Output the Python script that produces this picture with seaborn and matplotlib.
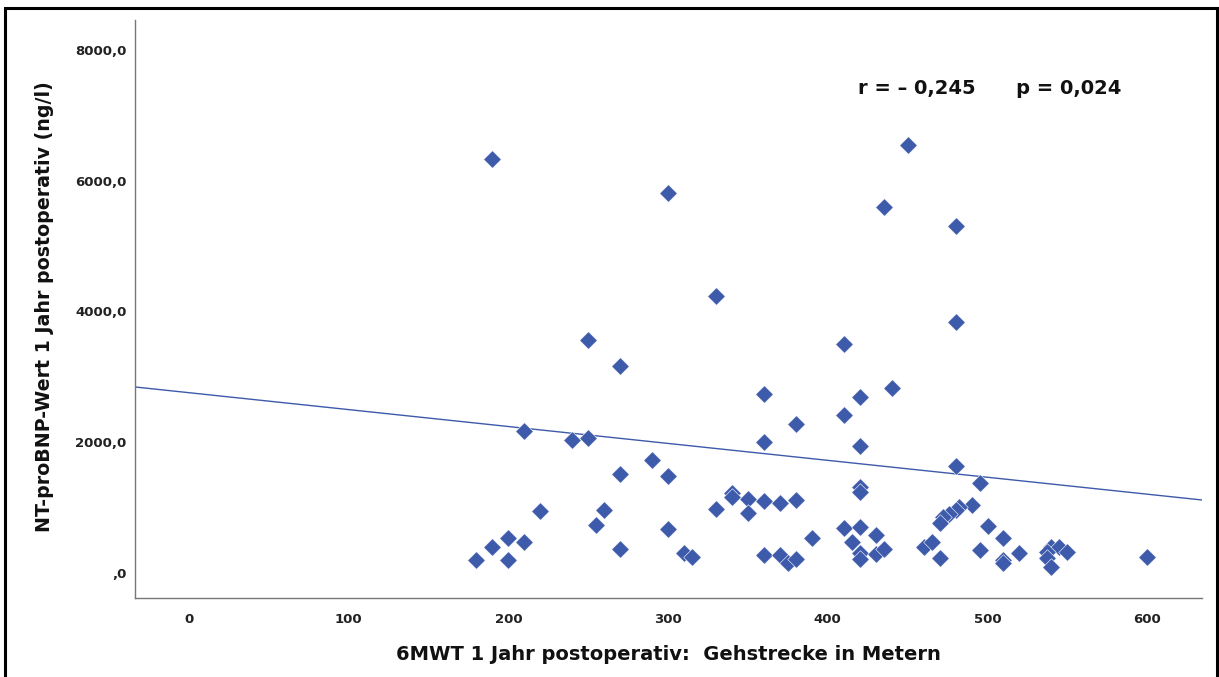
import matplotlib
matplotlib.use("Agg")
import matplotlib.pyplot as plt
import seaborn as sns
import pandas as pd
from matplotlib.patches import Rectangle

# Data (6MWT distance in m, NT-proBNP in ng/l)
walk_m = [190, 300, 450, 435, 480, 330, 480, 250, 270, 410, 440, 360,
          420, 410, 380, 210, 240, 250, 360, 420, 290, 480, 270, 300,
          220, 260, 255, 300, 270, 200, 210, 200, 190, 180, 310, 315,
          330, 340, 340, 350, 350, 360, 360, 370, 370, 375, 380, 380,
          390, 420, 420, 410, 420, 415, 430, 420, 420, 430, 435, 495,
          490, 482, 480, 476, 472, 470, 460, 465, 470, 500, 510, 495,
          510, 510, 520, 540, 545, 550, 537, 537, 540, 600]
ntprobnp = [6330, 5812, 6546, 5598, 5307, 4237, 3839, 3564, 3166, 3503, 2830, 2738,
            2692, 2417, 2279, 2165, 2030, 2068, 2010, 1942, 1736, 1640, 1514, 1490,
            950, 960, 730, 673, 372, 530, 475, 199, 393, 199, 310, 250,
            979, 1228, 1167, 1132, 922, 1097, 270, 1071, 275, 158, 210, 1117,
            540, 1310, 1240, 683, 700, 479, 578, 300, 210, 291, 365, 1372,
            1035, 1010, 970, 900, 850, 760, 402, 479, 225, 715, 540, 345,
            199, 160, 305, 402, 402, 326, 325, 225, 92, 249]

# fit line as drawn in the reference (intercept at x=0, slope per metre)
fit_intercept = 2758
fit_slope = -2.587

x_ticks = [0, 100, 200, 300, 400, 500, 600]
x_tick_labels = ["0", "100", "200", "300", "400", "500", "600"]
y_ticks = [0, 2000, 4000, 6000, 8000]
y_tick_labels = [",0", "2000,0", "4000,0", "6000,0", "8000,0"]

x_label = "6MWT 1 Jahr postoperativ:  Gehstrecke in Metern"
y_label = "NT-proBNP-Wert 1 Jahr postoperativ (ng/l)"
stats_text = "r = \u2013 0,245      p = 0,024"

df = pd.DataFrame({"walk": walk_m, "bnp": ntprobnp})

sns.set_style("white")
plt.rcParams["font.family"] = ["DejaVu Sans"]

W, H = 1219, 677
fig = plt.figure(figsize=(W / 100, H / 100), dpi=100)
ax = fig.add_axes([135 / W, 1 - 598 / H, (1202 - 135) / W, (598 - 20) / H])

blue = "#3d5aab"
sns.scatterplot(data=df, x="walk", y="bnp", ax=ax, marker="D", s=80,
                color=blue, edgecolor="white", linewidth=0.4, zorder=3)
ax.axline((0, fit_intercept), slope=fit_slope, color=blue, linewidth=1.0, zorder=2)

ax.set_xlim(-33.8, 634.3)
ax.set_ylim(-382, 8458)

ax.set_xticks(x_ticks)
ax.set_xticklabels(x_tick_labels, fontsize=9.5, fontweight="bold", color="#222222")
ax.set_yticks(y_ticks)
ax.set_yticklabels(y_tick_labels, fontsize=9.5, fontweight="bold", color="#222222")
ax.tick_params(axis="x", length=0, pad=11)
ax.tick_params(axis="y", length=0, pad=6)

ax.set_xlabel("")
ax.set_ylabel("")
fig.text(668 / W, 1 - 654 / H, x_label, ha="center", va="center",
         fontsize=14, fontweight="bold", color="#111111")
fig.text(45 / W, 1 - 307 / H, y_label, ha="center", va="center", rotation=90,
         fontsize=13.7, fontweight="bold", color="#111111")

ax.text(0.801, 0.881, stats_text, transform=ax.transAxes, ha="center", va="center",
        fontsize=14, fontweight="bold", color="#111111")

for side in ["top", "right"]:
    ax.spines[side].set_visible(False)
for side in ["left", "bottom"]:
    ax.spines[side].set_color("#777777")
    ax.spines[side].set_linewidth(1.0)

# outer frame
fig.patches.append(Rectangle((5 / W, -0.01), (1217 - 5) / W, 1 - 8 / H + 0.01,
                             transform=fig.transFigure, fill=False,
                             edgecolor="black", linewidth=2.2))

fig.savefig("out.png", dpi=100)
